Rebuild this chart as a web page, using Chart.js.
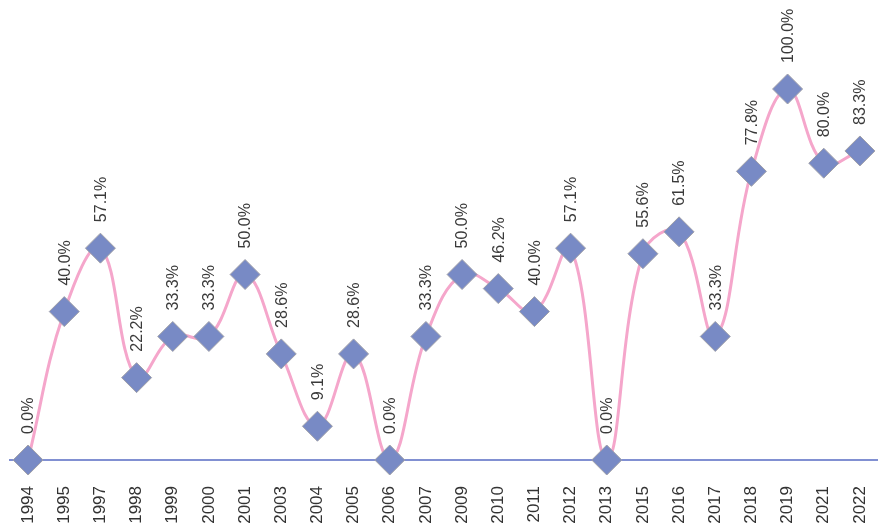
<!DOCTYPE html>
<html>
<head>
<meta charset="utf-8">
<script src="https://cdn.jsdelivr.net/npm/chart.js@4"></script>
<style>
    body { margin: 0; background: #fff; }
    canvas { display: block; }
</style>
</head>
<body>
<canvas id="rate_chart" width="878" height="527"></canvas>
<script>
// Yearly rate

const years = [
    '1994', '1995', '1997', '1998', '1999', '2000', '2001', '2003',
    '2004', '2005', '2006', '2007', '2009', '2010', '2011', '2012',
    '2013', '2015', '2016', '2017', '2018', '2019', '2021', '2022',
];
const rates = [
    0, 40.0, 57.1, 22.2, 33.3, 33.3, 50.0, 28.6,
    9.1, 28.6, 0, 33.3, 50.0, 46.2, 40.0, 57.1,
    0, 55.6, 61.5, 33.3, 77.8, 100.0, 80.0, 83.3,
];

const labelFont = '16px "Liberation Sans", Arial, sans-serif';

// rotated value labels above each diamond
const valueLabels = {
    id: 'valueLabels',
    afterDatasetsDraw(chart) {
        const ctx = chart.ctx;
        const meta = chart.getDatasetMeta(0);
        ctx.save();
        ctx.font = labelFont;
        ctx.fillStyle = '#3a3a3a';
        ctx.textAlign = 'left';
        ctx.textBaseline = 'middle';
        meta.data.forEach((pt, i) => {
            ctx.save();
            ctx.translate(pt.x + 1, pt.y - 26);
            ctx.rotate(-Math.PI / 2);
            ctx.fillText(rates[i].toFixed(1) + '%', 0, 0);
            ctx.restore();
        });
        ctx.restore();
    }
};

const data = {
    labels: years,
    datasets: [
        {
            label: 'Rate',
            data: rates,
            borderColor: '#f5a6cb',
            borderWidth: 3,
            tension: .4,
            pointStyle: 'rectRot',
            pointRadius: 15,
            pointHoverRadius: 15,
            pointBackgroundColor: '#788ac5',
            pointBorderColor: '#a0a0a8',
            pointBorderWidth: 1,
            clip: false,
        },
    ]
};

const config = {
    type: 'line',
    data: data,
    options: {
        responsive: false,
        animation: false,
        devicePixelRatio: 1,
        layout: {
            autoPadding: false,
            padding: { top: 89, left: 10, right: 0, bottom: 0 }
        },
        plugins: {
            legend: { display: false },
            tooltip: { enabled: false },
        },
        scales: {
            x: {
                offset: true,
                grid: { display: false, drawTicks: false },
                border: { display: true, color: '#8190d2', width: 2 },
                afterFit: (scale) => {
                    scale.height = 67;
                    scale.paddingLeft = 0;
                    scale.paddingRight = 0;
                },
                ticks: {
                    autoSkip: false,
                    minRotation: 90,
                    maxRotation: 90,
                    padding: 26,
                    color: '#333',
                    font: { family: '"Liberation Sans", Arial, sans-serif', size: 17 },
                },
            },
            y: {
                display: false,
                min: 0,
                max: 100,
            },
        },
    },
    plugins: [valueLabels],
};

const rateChart = new Chart(
    document.getElementById('rate_chart'),
    config
);
</script>
</body>
</html>
